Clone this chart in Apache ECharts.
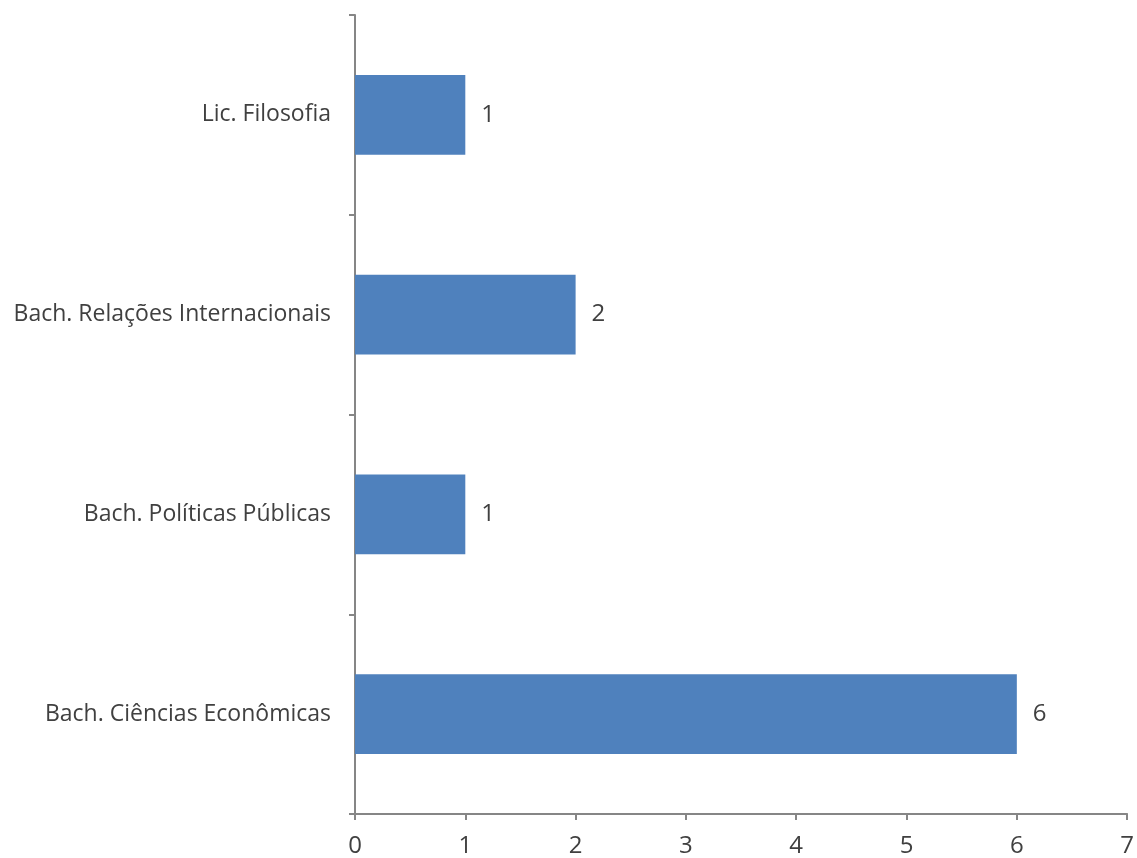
<!DOCTYPE html>
<html><head><meta charset="utf-8">
<script src="https://cdn.jsdelivr.net/npm/echarts@6/dist/echarts.min.js"></script>
<style>html,body{margin:0;padding:0;background:#fff}#c{width:1137px;height:858px}</style>
</head><body><div id="c"></div>
<script>
const categories = ["Bach. Ciências Econômicas", "Bach. Políticas Públicas", "Bach. Relações Internacionais", "Lic. Filosofia"];
const values = [6, 1, 2, 1];
const xTicks = [0, 1, 2, 3, 4, 5, 6, 7];

const chart = echarts.init(document.getElementById('c'));
const font = "'Open Sans', 'Liberation Sans', sans-serif";
chart.setOption({
  animation: false,
  grid: {left: 355, right: 8, top: 15, bottom: 44, containLabel: false},
  xAxis: {
    type: 'value', min: xTicks[0], max: xTicks[xTicks.length - 1], interval: 1,
    splitLine: {show: false},
    axisLine: {show: true, lineStyle: {color: '#868686', width: 2}},
    axisTick: {show: true, length: 6, lineStyle: {color: '#868686', width: 2}},
    axisLabel: {color: '#404040', fontSize: 24, fontFamily: font, margin: 20}
  },
  yAxis: {
    type: 'category', data: categories,
    axisLine: {show: true, lineStyle: {color: '#868686', width: 2}},
    axisTick: {show: true, length: 6, alignWithLabel: false, lineStyle: {color: '#868686', width: 2}},
    axisLabel: {color: '#404040', fontSize: 23, fontFamily: font, margin: 24}
  },
  series: [{
    type: 'bar', data: values, barWidth: '40%',
    itemStyle: {color: '#4F81BD'},
    label: {show: true, position: 'right', distance: 16, color: '#404040', fontSize: 24, fontFamily: font}
  }]
});
</script></body></html>
